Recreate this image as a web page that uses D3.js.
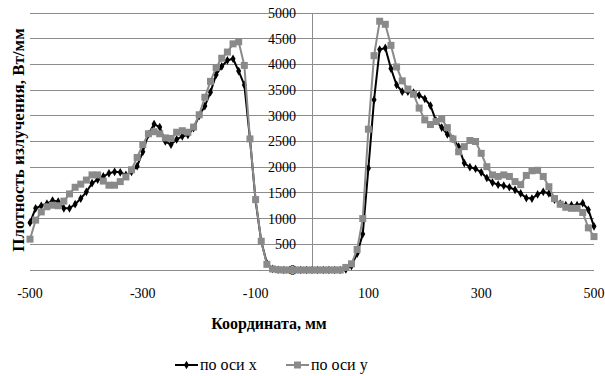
<!DOCTYPE html>
<html lang="ru">
<head>
<meta charset="utf-8">
<title>Плотность излучения</title>
<script src="https://cdn.jsdelivr.net/npm/d3@7/dist/d3.min.js"></script>
<style>
  body { margin: 0; background: #fff; }
</style>
</head>
<body>
<div id="chart"></div>
<script>
// coordinates, mm (same for both series)
var coords = [-500,-490,-480,-470,-460,-450,-440,-430,-420,-410,-400,-390,-380,-370,-360,-350,-340,-330,-320,-310,
  -300,-290,-280,-270,-260,-250,-240,-230,-220,-210,-200,-190,-180,-170,-160,-150,-140,-130,-120,-110,
  -100,-90,-80,-70,-60,-50,-40,-30,-20,-10,0,10,20,30,40,50,60,70,80,90,
  100,110,120,130,140,150,160,170,180,190,200,210,220,230,240,250,260,270,280,290,
  300,310,320,330,340,350,360,370,380,390,400,410,420,430,440,450,460,470,480,490,500]

// "по оси х"
var serX = [920,1200,1250,1290,1350,1330,1200,1200,1280,1390,1520,1690,1760,1820,1880,1910,1900,1850,1910,2020,
  2300,2640,2840,2780,2500,2440,2540,2600,2630,2760,3000,3190,3460,3800,3960,4080,4110,3870,3600,2550,
  1350,560,130,20,5,0,0,0,0,0,0,0,0,0,0,0,10,80,320,700,
  1980,3310,4290,4320,3920,3600,3470,3470,3450,3400,3330,3200,2900,2770,2640,2550,2400,2080,2000,1970,
  1900,1790,1700,1660,1640,1610,1560,1490,1400,1390,1470,1520,1490,1370,1290,1260,1260,1260,1300,1170,850]

// "по оси у"
var serY = [600,970,1130,1230,1260,1250,1340,1480,1610,1670,1750,1850,1850,1730,1650,1650,1720,1810,1950,2190,
  2440,2650,2690,2650,2570,2560,2680,2710,2680,2780,3020,3360,3670,3940,4120,4240,4400,4440,3980,2550,
  1370,560,110,20,5,0,0,0,0,0,0,0,0,0,0,0,50,120,400,1000,
  2740,4170,4840,4780,4370,3950,3680,3520,3420,3150,2920,2830,2890,2940,2770,2550,2300,2400,2520,2500,
  2270,2010,1850,1820,1850,1820,1720,1660,1840,1930,1940,1820,1620,1390,1280,1220,1200,1200,1120,820,650]

var xTicks = [-500,-300,-100,100,300,500]
var yTicks = [0,500,1000,1500,2000,2500,3000,3500,4000,4500,5000]
var legendNames = ["по оси х","по оси у"]

var W = 605, H = 376
var svg = d3.select("#chart").append("svg").attr("width",W).attr("height",H)
  .attr("font-family","'Liberation Serif','Times New Roman','DejaVu Serif',serif")

var x = d3.scaleLinear().domain([-500,500]).range([30,594])
var y = d3.scaleLinear().domain([0,5000]).range([270,13])

// gridlines
svg.append("g").selectAll("line").data(yTicks).enter().append("line")
  .attr("x1",x(-500)).attr("x2",x(500))
  .attr("y1",function(d){return y(d)}).attr("y2",function(d){return y(d)})
  .attr("stroke","#8c8c8c").attr("stroke-width",1).attr("shape-rendering","crispEdges")

// vertical axis at x = 0
svg.append("line")
  .attr("x1",x(0)).attr("x2",x(0)).attr("y1",y(5000)).attr("y2",y(0))
  .attr("stroke","#8c8c8c").attr("shape-rendering","crispEdges")

// y tick labels
svg.append("g").selectAll("text").data(yTicks).enter().append("text")
  .attr("x",x(0)-16).attr("y",function(d){return y(d)})
  .attr("dy","0.35em").attr("text-anchor","end")
  .attr("font-size",14).attr("fill","#000")
  .text(function(d){return d})

// x tick labels
svg.append("g").selectAll("text").data(xTicks).enter().append("text")
  .attr("x",function(d){return x(d)}).attr("y",298)
  .attr("text-anchor","middle").attr("font-size",14)
  .text(function(d){return d})

// titles
svg.append("text").attr("x",269).attr("y",329).attr("text-anchor","middle")
  .attr("font-size",16).attr("font-weight","bold").text("Координата, мм")
svg.append("text").attr("transform","translate(24,140) rotate(-90)")
  .attr("text-anchor","middle").attr("font-size",17).attr("font-weight","bold")
  .text("Плотность излучения, Вт/мм")

var line = d3.line()
  .x(function(d,i){return x(coords[i])})
  .y(function(d){return y(d)})

function drawSeries(vals,color,marker){
  var g = svg.append("g")
  g.append("path").datum(vals).attr("d",line)
    .attr("fill","none").attr("stroke",color).attr("stroke-width",2)
  g.selectAll("path.m").data(vals).enter().append("path").attr("class","m")
    .attr("d",marker)
    .attr("transform",function(d,i){return "translate("+x(coords[i])+","+y(d)+")"})
    .attr("fill",color)
}
var diamond = d3.symbol().type(d3.symbolDiamond).size(22)()
var square = d3.symbol().type(d3.symbolSquare).size(49)()

drawSeries(serX,"#000",diamond)
drawSeries(serY,"#8a8a8a",square)

// legend
var leg = [{name:legendNames[0],color:"#000",m:diamond,x0:175},{name:legendNames[1],color:"#8a8a8a",m:square,x0:286}]
leg.forEach(function(l){
  svg.append("line").attr("x1",l.x0).attr("x2",l.x0+23).attr("y1",365).attr("y2",365)
    .attr("stroke",l.color).attr("stroke-width",2)
  svg.append("path").attr("d",l.m).attr("transform","translate("+(l.x0+11.5)+",365)").attr("fill",l.color)
  svg.append("text").attr("x",l.x0+25).attr("y",370).attr("font-size",16).text(l.name)
})
</script>
</body>
</html>
